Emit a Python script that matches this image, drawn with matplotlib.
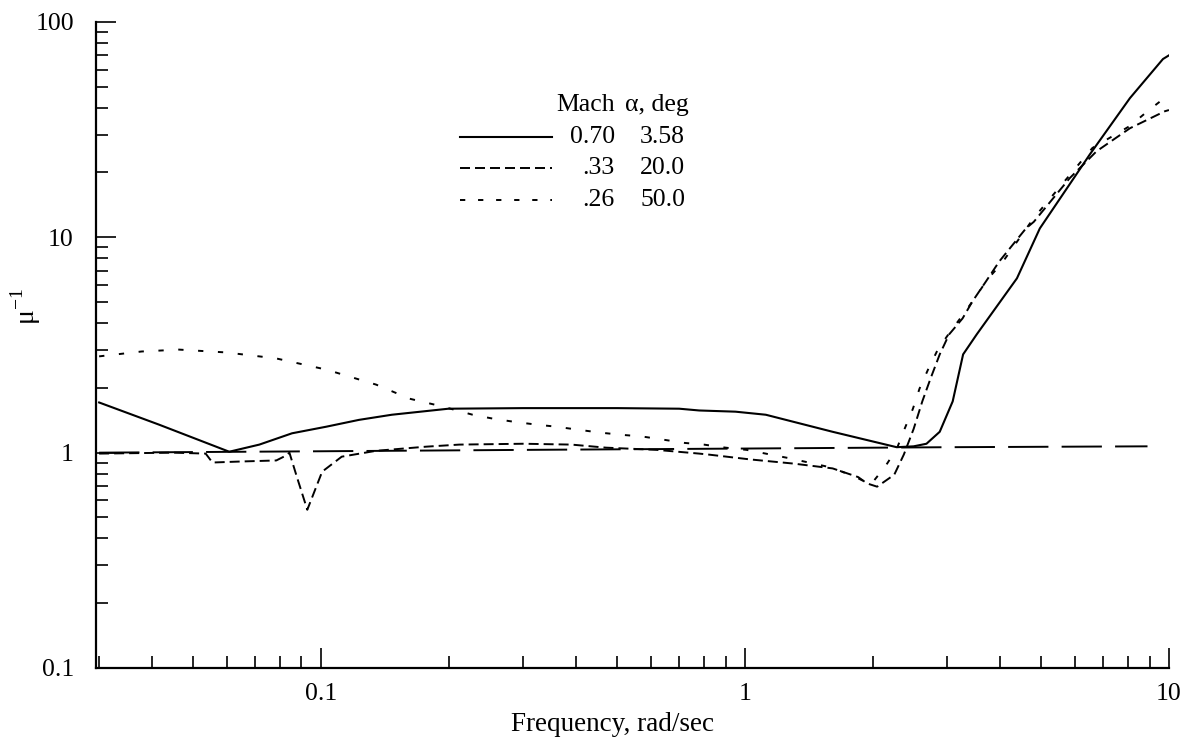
import matplotlib
matplotlib.use("Agg")
import matplotlib.pyplot as plt
from matplotlib.lines import Line2D
from matplotlib.ticker import LogLocator, FuncFormatter, NullFormatter

plt.rcParams['font.family'] = ['Liberation Serif', 'DejaVu Serif']
plt.rcParams['mathtext.fontset'] = 'custom'
plt.rcParams['mathtext.rm'] = 'Liberation Serif'
plt.rcParams['lines.scale_dashes'] = False

# Mach 0.70, alpha 3.58 deg (solid)
freq_a = [0.03, 0.0415, 0.0608, 0.0716, 0.0855, 0.103, 0.123, 0.147, 0.20, 0.30, 0.50,
          0.70, 0.78, 0.95, 1.12, 1.61, 2.28, 2.50, 2.68, 2.88, 3.09, 3.27, 3.52,
          4.38, 4.96, 6.51, 8.09, 9.68, 10.0]
mu_a = [1.71, 1.35, 1.01, 1.09, 1.23, 1.32, 1.42, 1.50, 1.60, 1.61, 1.61,
        1.60, 1.57, 1.55, 1.50, 1.25, 1.06, 1.07, 1.10, 1.25, 1.73, 2.86, 3.54,
        6.45, 11.0, 24.3, 44.3, 67.3, 70.0]

# Mach .33, alpha 20.0 deg (dashed)
freq_b = [0.03, 0.045, 0.0535, 0.0555, 0.065, 0.0785, 0.0828, 0.0843, 0.088, 0.0929,
          0.1007, 0.112, 0.135, 0.177, 0.212, 0.30, 0.39, 0.47, 0.62, 0.78, 0.82,
          1.03, 1.30, 1.61, 1.85, 1.94, 2.05, 2.25, 2.37, 2.50, 2.62, 2.74, 2.88,
          3.03, 3.26, 3.44, 3.70, 3.98, 4.60, 4.80, 5.83, 6.75, 8.09, 9.78, 10.0]
mu_b = [0.99, 1.0, 0.99, 0.90, 0.91, 0.92, 0.97, 1.0, 0.76, 0.543,
        0.816, 0.958, 1.02, 1.066, 1.09, 1.10, 1.09, 1.055, 1.03, 0.99, 0.98,
        0.93, 0.89, 0.845, 0.77, 0.72, 0.695, 0.79, 0.98, 1.29, 1.73, 2.21, 2.86,
        3.54, 4.2, 5.04, 6.23, 7.73, 11.0, 11.8, 18.8, 25.1, 32.1, 38.5, 39.0]

# Mach .26, alpha 50.0 deg (short dashes)
freq_c = [0.03, 0.0378, 0.0463, 0.0598, 0.0784, 0.103, 0.135, 0.162, 0.193, 0.228,
          0.254, 0.286, 0.322, 0.359, 0.402, 0.454, 0.512, 0.57, 0.64, 0.72, 0.80,
          0.90, 1.01, 1.28, 1.61, 1.85, 1.98, 2.14, 2.28, 2.38, 2.49, 2.58, 2.71,
          2.85, 3.03, 3.27, 3.48, 3.73, 4.03, 4.80, 6.60, 8.09, 8.90, 9.68, 10.0]
mu_c = [2.80, 2.95, 3.01, 2.92, 2.74, 2.43, 2.07, 1.78, 1.64, 1.50,
        1.44, 1.39, 1.35, 1.32, 1.28, 1.24, 1.21, 1.19, 1.15, 1.11, 1.09,
        1.055, 1.03, 0.94, 0.85, 0.76, 0.71, 0.86, 1.04, 1.29, 1.60, 1.98, 2.46,
        3.01, 3.58, 4.38, 5.20, 6.37, 7.56, 12.3, 26.0, 32.9, 38.5, 43.8, 45.0]

# reference line (long dashes)
freq_ref = [0.03, 0.1, 0.3, 1.0, 3.0, 8.9]
mu_ref = [1.0, 1.015, 1.03, 1.045, 1.06, 1.07]

legend_mach = ["0.70", ".33", ".26"]
legend_alpha = ["3.58", "20.0", "50.0"]

fig = plt.figure(figsize=(11.96, 7.40), dpi=100)
ax = fig.add_axes([0.0803, 0.0973, 0.8971, 0.8730])

ax.plot(freq_ref, mu_ref, color='black', lw=1.4, dashes=(29, 9.5))
ax.plot(freq_a, mu_a, color='black', lw=1.5, ls='-')
ax.plot(freq_b, mu_b, color='black', lw=1.4, dashes=(7.2, 3.6))
ax.plot(freq_c, mu_c, color='black', lw=1.4, dashes=(3.8, 10.5))

ax.set_xscale('log')
ax.set_yscale('log')
ax.set_xlim(0.0295, 10)
ax.set_ylim(0.1, 100)

for s in ['top', 'right']:
    ax.spines[s].set_visible(False)
for s in ['left', 'bottom']:
    ax.spines[s].set_linewidth(1.6)

fmt = FuncFormatter(lambda v, p: '%g' % v)
ax.xaxis.set_major_locator(LogLocator(base=10, numticks=10))
ax.yaxis.set_major_locator(LogLocator(base=10, numticks=10))
ax.xaxis.set_minor_locator(LogLocator(base=10, subs=range(2, 10), numticks=20))
ax.yaxis.set_minor_locator(LogLocator(base=10, subs=range(2, 10), numticks=20))
ax.xaxis.set_major_formatter(fmt)
ax.yaxis.set_major_formatter(fmt)
ax.xaxis.set_minor_formatter(NullFormatter())
ax.yaxis.set_minor_formatter(NullFormatter())
ax.tick_params(which='major', direction='in', length=14.5, width=1.2, labelsize=18.5)
ax.tick_params(which='minor', direction='in', length=8.6, width=1.2)
ax.tick_params(axis='x', which='major', pad=11)
ax.tick_params(axis='y', which='major', pad=16)

ax.set_xlabel("Frequency, rad/sec", fontsize=19.5)
ax.xaxis.set_label_coords(0.481, -0.068)
ax.set_ylabel(r"μ$^{-1}$", fontsize=20)
ax.yaxis.set_label_coords(-0.049, 0.56)

# legend drawn as a small table
W, H = 1196.0, 740.0
def fx(px):
    return px / W
def fy(py):
    return 1 - py / H

fig.text(fx(615), fy(105), "Mach", fontsize=18.5, ha='right', va='center')
fig.text(fx(625), fy(105), "α, deg", fontsize=18.5, ha='left', va='center')
styles = [dict(ls='-', lw=1.5), dict(dashes=(7.2, 3.6), lw=1.4), dict(dashes=(3.8, 9.2), lw=1.4)]
rows_y = [137, 168, 200]
for yy, m, a, st in zip(rows_y, legend_mach, legend_alpha, styles):
    fig.add_artist(Line2D([fx(460), fx(552)], [fy(yy), fy(yy)], color='black', **st))
    fig.text(fx(615), fy(yy), m, fontsize=18.5, ha='right', va='center')
    fig.text(fx(685), fy(yy), a, fontsize=18.5, ha='right', va='center')

fig.savefig("out.png", dpi=100)
